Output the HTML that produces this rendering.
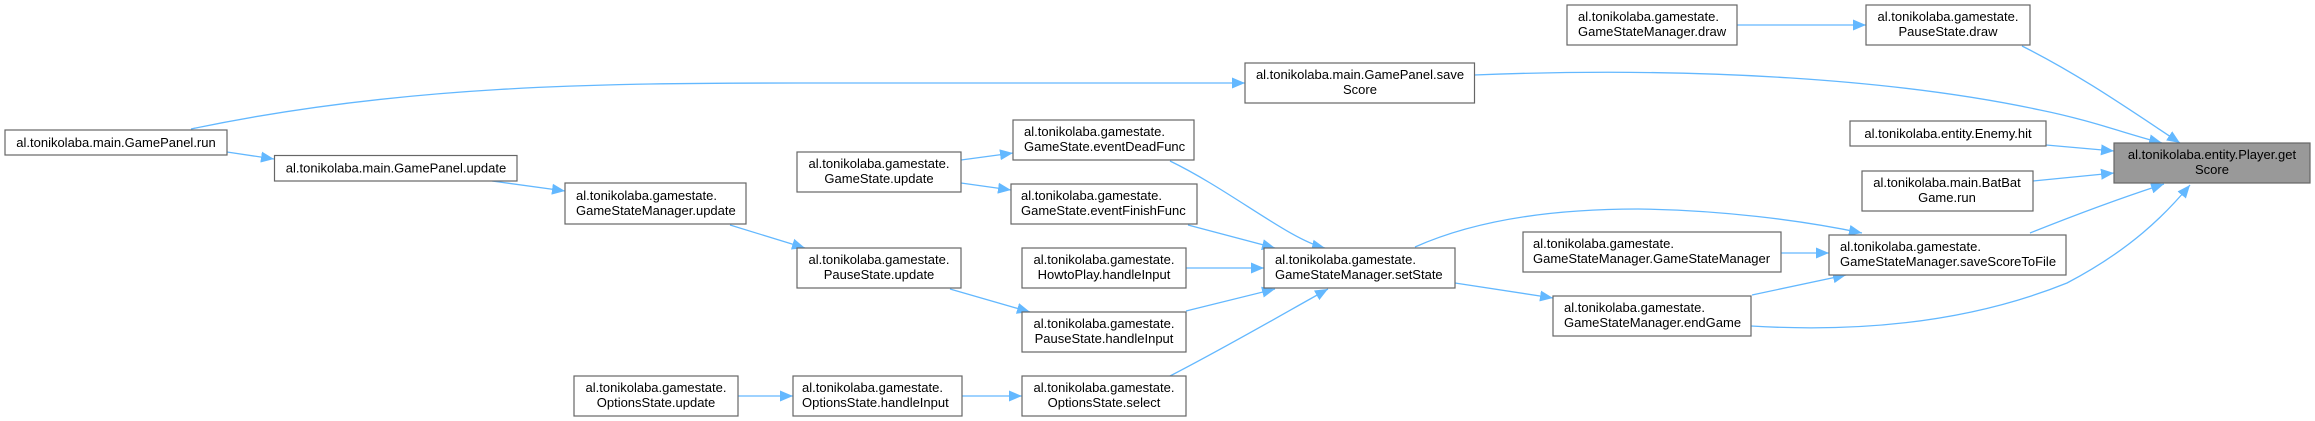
<!DOCTYPE html>
<html><head><meta charset="utf-8"><style>
html,body{margin:0;padding:0;background:#fff;}
svg{display:block;}
text{font-family:"Liberation Sans",sans-serif;font-size:13px;fill:#000;}
.b{fill:#fff;stroke:#666;stroke-width:1.2;}
.e{fill:none;stroke:#63b8ff;stroke-width:1.3;}
</style></head><body>
<svg width="2315" height="421" viewBox="0 0 2315 421" xmlns="http://www.w3.org/2000/svg">
<defs><marker id="a" markerUnits="userSpaceOnUse" markerWidth="14" markerHeight="12" refX="13" refY="6" orient="auto"><path d="M0,0.5 L13,6 L0,11.5 z" fill="#63b8ff"/></marker></defs>

<g class="edges">
<path class="e" marker-end="url(#a)" d="M1737,25 L1866,25"/>
<path class="e" marker-end="url(#a)" d="M2022,46 C2080,75 2130,110 2180,143"/>
<path class="e" marker-end="url(#a)" d="M1474,75 C1700,66 1900,80 2040,110 C2090,120 2130,135 2162,143"/>
<path class="e" marker-end="url(#a)" d="M191,129 C400,85 600,83 800,83 L1245,83"/>
<path class="e" marker-end="url(#a)" d="M2046,145 L2114,151"/>
<path class="e" marker-end="url(#a)" d="M2033,181 L2114,173"/>
<path class="e" marker-end="url(#a)" d="M2030,233 C2080,213 2130,195 2164,184"/>
<path class="e" marker-end="url(#a)" d="M1751,326 C1900,335 2000,310 2067,283 C2130,250 2165,215 2190,185"/>
<path class="e" marker-end="url(#a)" d="M1781,253 L1829,253"/>
<path class="e" marker-end="url(#a)" d="M1752,295 L1846,275"/>
<path class="e" marker-end="url(#a)" d="M1415,247 C1480,218 1560,209 1638,209 C1720,210 1800,220 1862,233"/>
<path class="e" marker-end="url(#a)" d="M1455,283 L1553,298"/>
<path class="e" marker-end="url(#a)" d="M227,152 L274,159"/>
<path class="e" marker-end="url(#a)" d="M492,181 L565,191"/>
<path class="e" marker-end="url(#a)" d="M730,225 L805,248"/>
<path class="e" marker-end="url(#a)" d="M961,160 L1013,153"/>
<path class="e" marker-end="url(#a)" d="M961,183 L1011,190"/>
<path class="e" marker-end="url(#a)" d="M1170,161 C1230,190 1290,240 1325,248"/>
<path class="e" marker-end="url(#a)" d="M1188,225 L1275,248"/>
<path class="e" marker-end="url(#a)" d="M1186,268 L1264,268"/>
<path class="e" marker-end="url(#a)" d="M950,289 L1030,312"/>
<path class="e" marker-end="url(#a)" d="M1186,311 L1275,289"/>
<path class="e" marker-end="url(#a)" d="M1170,376 C1230,345 1290,310 1328,289"/>
<path class="e" marker-end="url(#a)" d="M738,396 L793,396"/>
<path class="e" marker-end="url(#a)" d="M962,396 L1022,396"/>
</g>

<g class="nodes">
<rect class="b" x="5" y="130" width="222" height="25"/><text x="116" y="147" text-anchor="middle">al.tonikolaba.main.GamePanel.run</text>
<rect class="b" x="274.5" y="155.5" width="242.5" height="25.5"/><text x="396" y="172.5" text-anchor="middle">al.tonikolaba.main.GamePanel.update</text>
<rect class="b" x="565" y="183" width="181" height="41"/><text x="576" y="200">al.tonikolaba.gamestate.</text><text x="576" y="215">GameStateManager.update</text>
<rect class="b" x="574" y="376" width="164" height="40"/><text x="656" y="392" text-anchor="middle">al.tonikolaba.gamestate.</text><text x="656" y="407" text-anchor="middle">OptionsState.update</text>

<rect class="b" x="1245" y="63" width="229.5" height="40"/><text x="1360" y="79" text-anchor="middle">al.tonikolaba.main.GamePanel.save</text><text x="1360" y="94" text-anchor="middle">Score</text>
<rect class="b" x="1013" y="120" width="181" height="40"/><text x="1024" y="136">al.tonikolaba.gamestate.</text><text x="1024" y="151">GameState.eventDeadFunc</text>
<rect class="b" x="797" y="152" width="164" height="40"/><text x="879" y="168" text-anchor="middle">al.tonikolaba.gamestate.</text><text x="879" y="183" text-anchor="middle">GameState.update</text>
<rect class="b" x="1011" y="184" width="186" height="40"/><text x="1021" y="200">al.tonikolaba.gamestate.</text><text x="1021" y="215">GameState.eventFinishFunc</text>
<rect class="b" x="797" y="248" width="164" height="40"/><text x="879" y="264" text-anchor="middle">al.tonikolaba.gamestate.</text><text x="879" y="279" text-anchor="middle">PauseState.update</text>
<rect class="b" x="1022" y="248" width="164" height="40"/><text x="1104" y="264" text-anchor="middle">al.tonikolaba.gamestate.</text><text x="1104" y="279" text-anchor="middle">HowtoPlay.handleInput</text>
<rect class="b" x="1264" y="248" width="191" height="40"/><text x="1275" y="264">al.tonikolaba.gamestate.</text><text x="1275" y="279">GameStateManager.setState</text>
<rect class="b" x="1022" y="312" width="164" height="40"/><text x="1104" y="328" text-anchor="middle">al.tonikolaba.gamestate.</text><text x="1104" y="343" text-anchor="middle">PauseState.handleInput</text>
<rect class="b" x="793" y="376" width="169" height="40"/><text x="802" y="392">al.tonikolaba.gamestate.</text><text x="802" y="407">OptionsState.handleInput</text>
<rect class="b" x="1022" y="376" width="164" height="40"/><text x="1104" y="392" text-anchor="middle">al.tonikolaba.gamestate.</text><text x="1104" y="407" text-anchor="middle">OptionsState.select</text>

<rect class="b" x="1567" y="5" width="170" height="40"/><text x="1578" y="21">al.tonikolaba.gamestate.</text><text x="1578" y="36">GameStateManager.draw</text>
<rect class="b" x="1866" y="5" width="164" height="40"/><text x="1948" y="21" text-anchor="middle">al.tonikolaba.gamestate.</text><text x="1948" y="36" text-anchor="middle">PauseState.draw</text>
<rect class="b" x="1850" y="121" width="196" height="25"/><text x="1948" y="138" text-anchor="middle">al.tonikolaba.entity.Enemy.hit</text>
<rect x="2114" y="143" width="196" height="40" fill="#999" stroke="#666" stroke-width="1.2"/><text x="2212" y="159" text-anchor="middle">al.tonikolaba.entity.Player.get</text><text x="2212" y="174" text-anchor="middle">Score</text>
<rect class="b" x="1862" y="171" width="171" height="40"/><text x="1947" y="187" text-anchor="middle">al.tonikolaba.main.BatBat</text><text x="1947" y="202" text-anchor="middle">Game.run</text>
<rect class="b" x="1523" y="232" width="258" height="40"/><text x="1533" y="248">al.tonikolaba.gamestate.</text><text x="1533" y="263">GameStateManager.GameStateManager</text>
<rect class="b" x="1829" y="235" width="237" height="40"/><text x="1840" y="251">al.tonikolaba.gamestate.</text><text x="1840" y="266">GameStateManager.saveScoreToFile</text>
<rect class="b" x="1553" y="296" width="198" height="40"/><text x="1564" y="312">al.tonikolaba.gamestate.</text><text x="1564" y="327">GameStateManager.endGame</text>
</g>
</svg>
</body></html>
